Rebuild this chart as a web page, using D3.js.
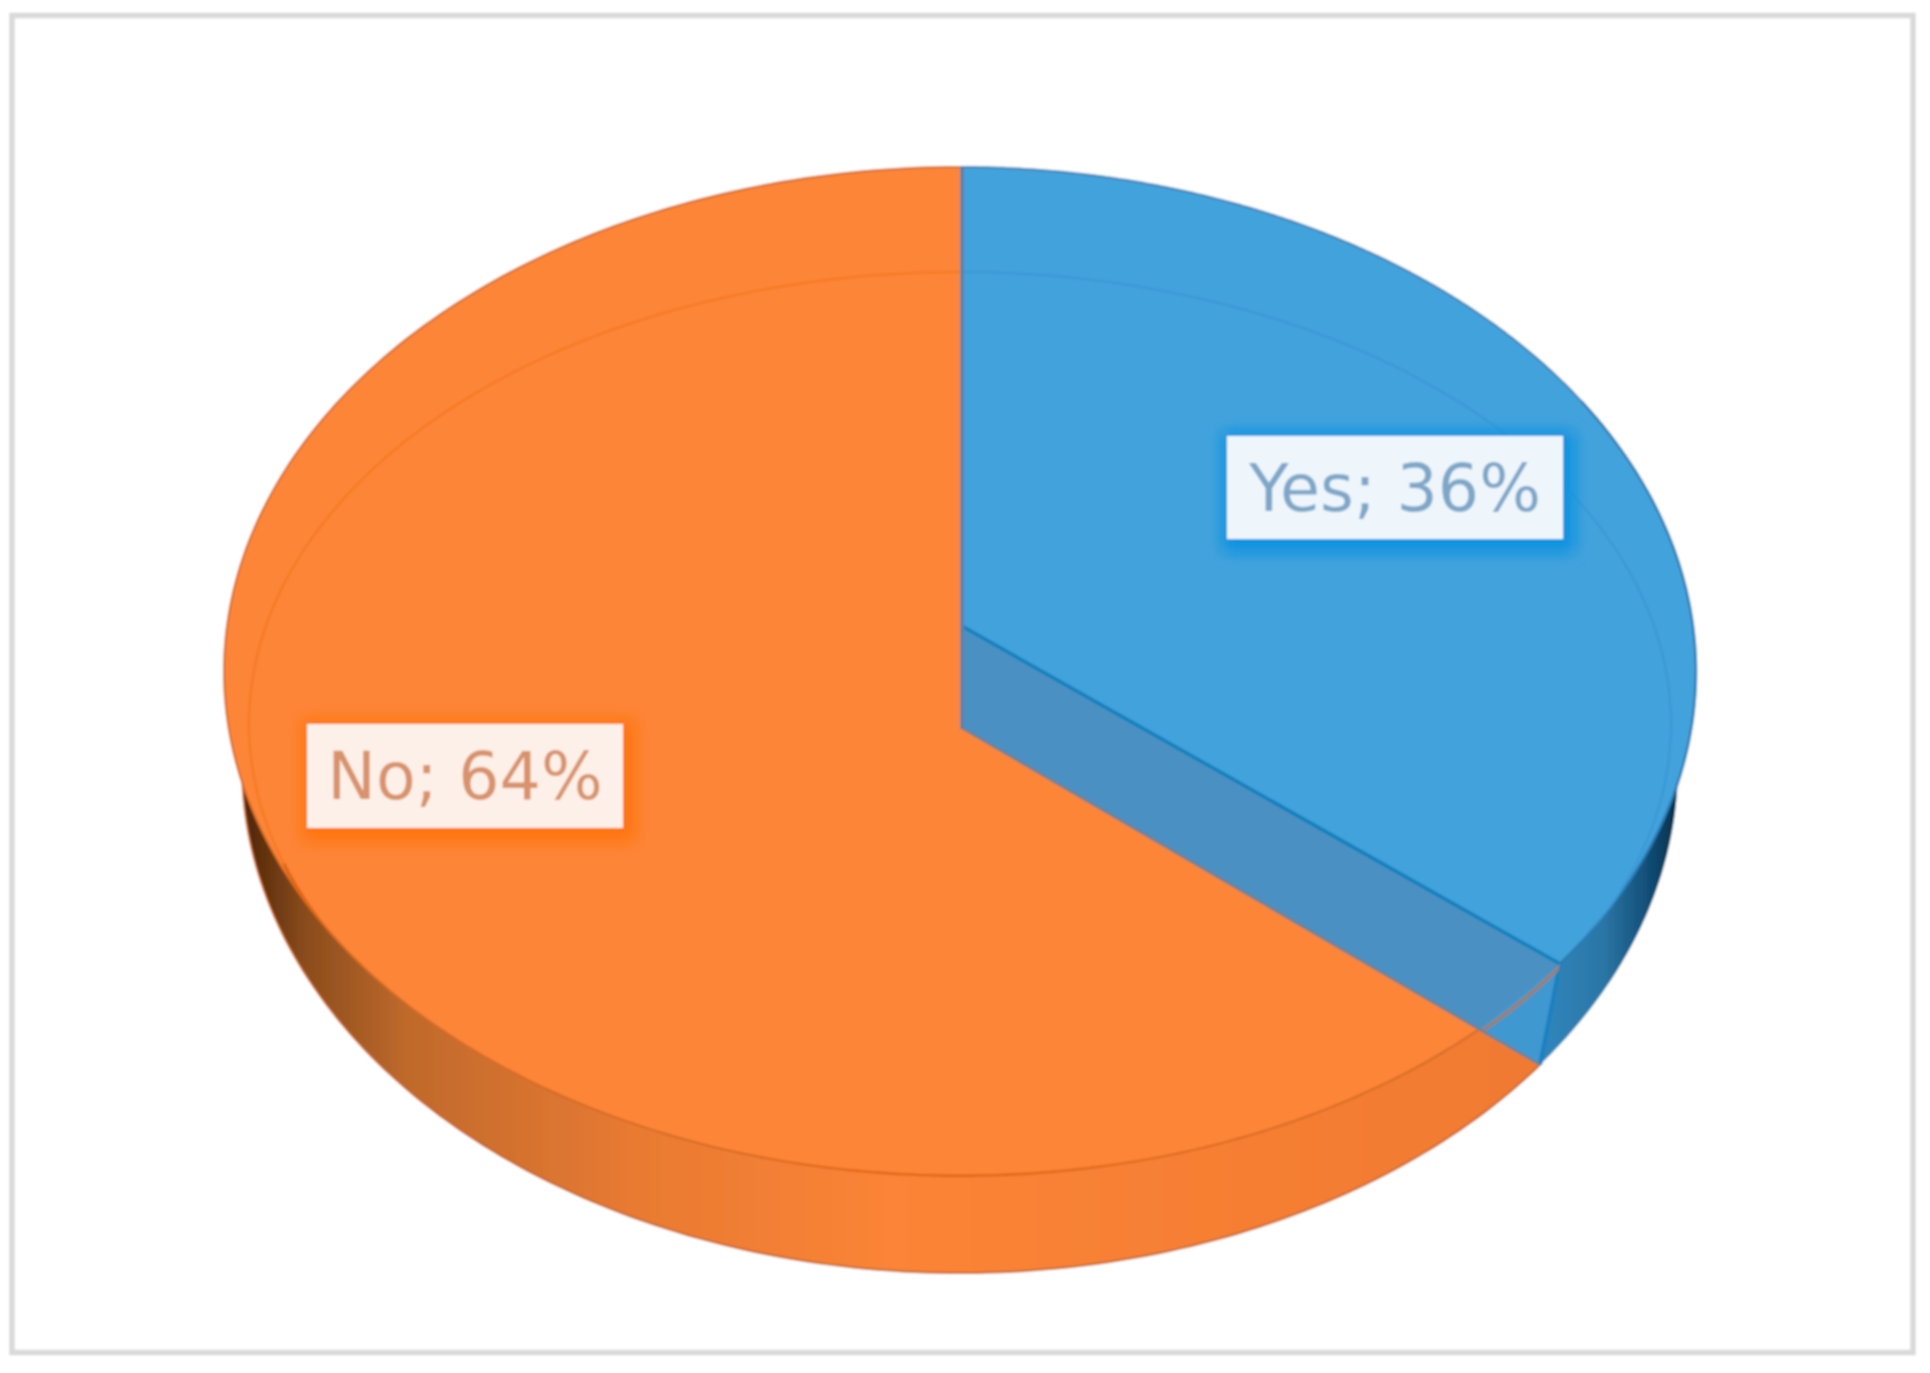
<!DOCTYPE html>
<html>
<head>
<meta charset="utf-8">
<title>Yes / No pie</title>
<script src="https://cdn.jsdelivr.net/npm/d3@7"></script>
<style>
    html, body { margin: 0; padding: 0; background: #fff; }
    svg { display: block; }
    text { font-family: "DejaVu Sans", sans-serif; }
</style>
</head>
<body>
<div id="chart"></div>
<script>
// Chart data
const categories = ["Yes", "No"];
const shares     = [36, 64];

const width  = 1930;
const height = 1373;

// The pie is drawn in perspective: three ellipses, and the apex of a slice sits
// above the middle of its ellipse (tilt is that shift as a share of the radius).
const topRim    = {cx: 960, cy: 671.5, rx: 736, ry: 504.5, tilt: -0.092};
const baseRim   = {cx: 960, cy: 766,   rx: 718, ry: 507,   tilt: -0.077};
const innerRing = {cx: 960, cy: 724,   rx: 711, ry: 452};

const labelBoxes = {
    Yes: {x: 1227, y: 436, w: 336, h: 103, fill: "#eef6fc", text: "#7fa6c8", glow: "#0a93e0"},
    No:  {x: 307,  y: 724, w: 316, h: 104, fill: "#fdf0e8", text: "#d8926c", glow: "#ff7410"}
};

const svg = d3.select("#chart").append("svg")
    .attr("width", width)
    .attr("height", height);

const defs = svg.append("defs");

function addGradient(id, stops, x1, x2) {
    const gradient = defs.append("linearGradient")
        .attr("id", id)
        .attr("gradientUnits", "userSpaceOnUse")
        .attr("x1", x1).attr("x2", x2)
        .attr("y1", 0).attr("y2", 0);

    stops.forEach(s => gradient.append("stop").attr("offset", s[0]).attr("stop-color", s[1]));
}

addGradient("orangeWall", [
    [0, "#4a2306"], [0.05, "#8a4c1c"], [0.13, "#c06a2c"], [0.3, "#e87a32"], [0.5, "#fb8437"], [1, "#f07a30"]
], 240, 1540);

addGradient("blueWall", [
    [0, "#2f88c0"], [0.45, "#2c76a6"], [0.75, "#114f78"], [1, "#00263e"]
], 1535, 1685);

const soften = defs.append("filter")
    .attr("id", "soften")
    .attr("filterUnits", "userSpaceOnUse")
    .attr("x", 0).attr("y", 0)
    .attr("width", width).attr("height", height);

soften.append("feGaussianBlur").attr("stdDeviation", 1.2);

const halo = defs.append("filter")
    .attr("id", "halo")
    .attr("x", "-20%").attr("y", "-40%")
    .attr("width", "140%").attr("height", "180%");

halo.append("feGaussianBlur").attr("stdDeviation", 7);

// Slice angles
const pie = d3.pie().sort(null).value(d => d.share)(
    categories.map((name, i) => ({name: name, share: shares[i]}))
);
const yesSlice = pie[0];

// Angle on the pie (clockwise from the top) to the angle on the drawn ellipse
function rimAngle(angle, rim) {
    if (angle >= 2 * Math.PI) {
        return 2 * Math.PI;
    }

    const a = rim.tilt;
    const u = Math.sin(angle);
    const v = -Math.cos(angle);
    const d = 1 + a * v;
    const t = Math.atan2(u * Math.sqrt(1 - a * a) / d, -(v + a) / d);

    return t < 0 ? t + 2 * Math.PI : t;
}

function rimPoint(rim, t) {
    return [rim.cx + rim.rx * Math.sin(t), rim.cy - rim.ry * Math.cos(t)];
}

function apexOf(rim) {
    return [rim.cx, rim.cy + rim.tilt * rim.ry];
}

function rimRun(rim, t0, t1) {
    return d3.range(0, 241).map(i => rimPoint(rim, t0 + (t1 - t0) * i / 240));
}

// Where a ray from a point through another one crosses an ellipse
function rayHit(rim, from, through) {
    const dx = (through[0] - from[0]) / rim.rx;
    const dy = (through[1] - from[1]) / rim.ry;
    const ox = (from[0] - rim.cx) / rim.rx;
    const oy = (from[1] - rim.cy) / rim.ry;
    const a = dx * dx + dy * dy;
    const b = 2 * (ox * dx + oy * dy);
    const c = ox * ox + oy * oy - 1;
    const k = (-b + Math.sqrt(b * b - 4 * a * c)) / (2 * a);

    return Math.atan2(ox + k * dx, -(oy + k * dy));
}

const line = d3.line();

const cutTop  = rimAngle(yesSlice.endAngle, topRim);
const cutBase = rimAngle(yesSlice.endAngle, baseRim);

const apexTop    = apexOf(topRim);
const apexBase   = apexOf(baseRim);
const cornerTop  = rimPoint(topRim, cutTop);
const cornerBase = rimPoint(baseRim, cutBase);

let cutFace = rayHit(topRim, apexBase, cornerBase);
if (cutFace < 0) {
    cutFace += 2 * Math.PI;
}

const chart = svg.append("g").attr("filter", "url(#soften)");

// Chart frame
chart.append("rect")
    .attr("x", 12).attr("y", 15.5)
    .attr("width", 1901).attr("height", 1337)
    .attr("fill", "#fff")
    .attr("stroke", "#d9d9d9")
    .attr("stroke-width", 5.5);

// Side walls, on the base ellipse
chart.append("path")
    .attr("d", line([apexBase, ...rimRun(baseRim, cutBase, 2 * Math.PI)]) + "Z")
    .attr("fill", "url(#orangeWall)");

chart.append("path")
    .attr("d", line([apexBase, ...rimRun(baseRim, rimAngle(yesSlice.startAngle, baseRim), cutBase)]) + "Z")
    .attr("fill", "url(#blueWall)");

chart.append("path")
    .attr("d", line(rimRun(baseRim, cutBase, 2 * Math.PI)))
    .attr("fill", "none")
    .attr("stroke", "#c8682c")
    .attr("stroke-width", 2);

// Top face of the Yes slice
chart.append("path")
    .attr("d", line([apexTop, ...rimRun(topRim, 0, cutTop)]) + "Z")
    .attr("fill", "#43a2dc");

chart.append("path")
    .attr("d", line(rimRun(topRim, 0, Math.PI * 0.32)))
    .attr("fill", "none")
    .attr("stroke", "#3a80b4")
    .attr("stroke-width", 2);

chart.append("path")
    .attr("d", line(rimRun(topRim, Math.PI * 0.32, cutTop)))
    .attr("fill", "none")
    .attr("stroke", "#2a7cb2")
    .attr("stroke-width", 2.5);

// Inner wall of the Yes slice, seen in the cut
chart.append("path")
    .attr("d", line([apexTop, cornerTop, cornerBase, apexBase]) + "Z")
    .attr("fill", "#4b90c2");

chart.append("path")
    .attr("d", line([rimPoint(topRim, cutFace), cornerTop, cornerBase]) + "Z")
    .attr("fill", "#3f98d0");

chart.append("path")
    .attr("d", line([cornerTop, cornerBase]))
    .attr("stroke", "#1a80c0")
    .attr("stroke-width", 4);

chart.append("path")
    .attr("d", line([apexTop, cornerTop]))
    .attr("stroke", "#0f80bc")
    .attr("stroke-width", 3.5);

// Top face of the No slice, it runs down to the lower cut edge
chart.append("path")
    .attr("d", line([apexBase, ...rimRun(topRim, cutFace, 2 * Math.PI)]) + "Z")
    .attr("fill", "#fd8537");

chart.append("path")
    .attr("d", line(rimRun(topRim, cutFace, 2 * Math.PI)))
    .attr("fill", "none")
    .attr("stroke", "#d46c28")
    .attr("stroke-width", 2);

// Ring on the pie, clipped per slice by colour
defs.append("clipPath").attr("id", "faceYes").append("path")
    .attr("d", line([apexTop, ...rimRun(topRim, 0, cutTop)]) + "Z");
defs.append("clipPath").attr("id", "wallYes").append("path")
    .attr("d", line([apexTop, cornerTop, cornerBase, apexBase]) + "Z");
defs.append("clipPath").attr("id", "faceNo").append("path")
    .attr("d", line([apexBase, ...rimRun(topRim, cutFace, 2 * Math.PI), apexBase]) + "Z");

[
    ["faceYes", "#3a98d4", 2, 0, 2 * Math.PI],
    ["wallYes", "#9a8078", 4, 0, 2 * Math.PI],
    ["faceNo", "#f6781f", 2, 0, 2 * Math.PI],
    ["faceNo", "#e26410", 3, Math.PI * 0.62, Math.PI * 1.4]
].forEach(ring => {
    chart.append("path")
        .attr("d", line(rimRun(innerRing, ring[3], ring[4])))
        .attr("clip-path", "url(#" + ring[0] + ")")
        .attr("fill", "none")
        .attr("stroke", ring[1])
        .attr("stroke-width", ring[2]);
});

// Seams between the slices
chart.append("path")
    .attr("d", line([[apexTop[0] + 2, topRim.cy - topRim.ry], [apexTop[0] + 2, apexBase[1]]]))
    .attr("stroke", "#5f82a6")
    .attr("stroke-width", 4);

chart.append("path")
    .attr("d", line([apexBase, cornerBase]))
    .attr("stroke", "#74808c")
    .attr("stroke-width", 2.5);

// Data labels
const labels = chart.selectAll("g.label")
    .data(pie)
    .join("g")
    .attr("class", "label");

labels.append("rect")
    .attr("x", d => labelBoxes[d.data.name].x - 5)
    .attr("y", d => labelBoxes[d.data.name].y - 5)
    .attr("width", d => labelBoxes[d.data.name].w + 17)
    .attr("height", d => labelBoxes[d.data.name].h + 19)
    .attr("fill", d => labelBoxes[d.data.name].glow)
    .attr("filter", "url(#halo)");

labels.append("rect")
    .attr("x", d => labelBoxes[d.data.name].x)
    .attr("y", d => labelBoxes[d.data.name].y)
    .attr("width", d => labelBoxes[d.data.name].w)
    .attr("height", d => labelBoxes[d.data.name].h)
    .attr("fill", d => labelBoxes[d.data.name].fill);

labels.append("text")
    .attr("x", d => labelBoxes[d.data.name].x + labelBoxes[d.data.name].w / 2)
    .attr("y", d => labelBoxes[d.data.name].y + labelBoxes[d.data.name].h / 2)
    .attr("dy", "0.36em")
    .attr("text-anchor", "middle")
    .attr("font-size", 65)
    .attr("fill", d => labelBoxes[d.data.name].text)
    .text(d => d.data.name + "; " + d.data.share + "%");
</script>
</body>
</html>
